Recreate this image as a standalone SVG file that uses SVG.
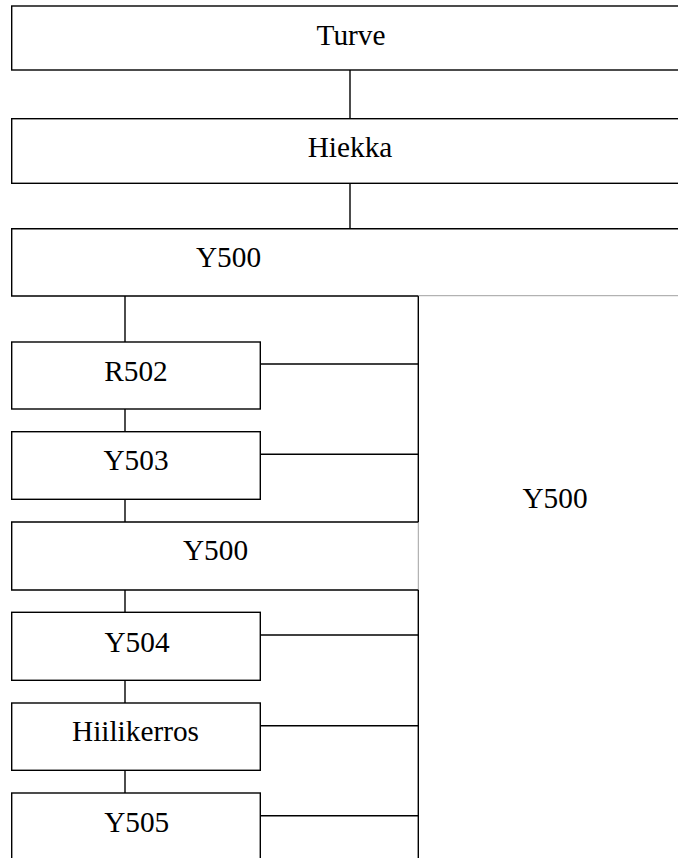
<svg xmlns="http://www.w3.org/2000/svg" width="678" height="858" viewBox="0 0 678 858">
<style>
.box{fill:#fff;stroke:#000;stroke-width:1.4}
.ln{stroke:#000;stroke-width:1.4;fill:none}
.gr{stroke:#a0a0a0;stroke-width:1;fill:none}
.t{font-size:29.3px;fill:#000;text-anchor:middle}
</style>
<rect width="678" height="858" fill="#fff"/>
<g id="connectors">
<line class="ln" x1="350" y1="70" x2="350" y2="118.5"/>
<line class="ln" x1="350" y1="183.3" x2="350" y2="228.7"/>
<line class="ln" x1="125" y1="296" x2="125" y2="342"/>
<line class="ln" x1="125" y1="409" x2="125" y2="432"/>
<line class="ln" x1="125" y1="499.3" x2="125" y2="522"/>
<line class="ln" x1="125" y1="590" x2="125" y2="612.3"/>
<line class="ln" x1="125" y1="680.3" x2="125" y2="703"/>
<line class="ln" x1="125" y1="770.3" x2="125" y2="793"/>
<line class="ln" x1="418.3" y1="296" x2="418.3" y2="522"/>
<line class="ln" x1="418.3" y1="590" x2="418.3" y2="858"/>
<line class="gr" x1="418.3" y1="522" x2="418.3" y2="590"/>
<line class="gr" x1="418.3" y1="295.7" x2="678" y2="295.7"/>
<line class="ln" x1="260.3" y1="364" x2="418.3" y2="364"/>
<line class="ln" x1="260.3" y1="454.3" x2="418.3" y2="454.3"/>
<line class="ln" x1="260.3" y1="635" x2="418.3" y2="635"/>
<line class="ln" x1="260.3" y1="725.7" x2="418.3" y2="725.7"/>
<line class="ln" x1="260.3" y1="815.7" x2="418.3" y2="815.7"/>
</g>
<g font-family="Liberation Serif, Times New Roman, serif">
<g id="turve">
<rect class="box" x="11.7" y="6" width="680" height="64"/>
<text class="t" x="351" y="45">Turve</text>
</g>
<g id="hiekka">
<rect class="box" x="11.7" y="118.7" width="680" height="64.6"/>
<text class="t" x="350" y="156.7">Hiekka</text>
</g>
<g id="y500-top">
<polyline class="ln" points="690,228.7 11.7,228.7 11.7,296 418.3,296"/>
<text class="t" x="228.5" y="267.3">Y500</text>
</g>
<g id="r502">
<rect class="box" x="11.7" y="342" width="248.6" height="67"/>
<text class="t" x="136" y="380.7">R502</text>
</g>
<g id="y503">
<rect class="box" x="11.7" y="431.7" width="248.6" height="67.6"/>
<text class="t" x="136" y="470">Y503</text>
</g>
<g id="y500-mid">
<polyline class="ln" points="418.3,522 11.7,522 11.7,590 418.3,590"/>
<text class="t" x="215.5" y="560">Y500</text>
</g>
<g id="y504">
<rect class="box" x="11.7" y="612.3" width="248.6" height="68"/>
<text class="t" x="137" y="651.7">Y504</text>
</g>
<g id="hiilikerros">
<rect class="box" x="11.7" y="703" width="248.6" height="67.3"/>
<text class="t" x="135.5" y="740.7">Hiilikerros</text>
</g>
<g id="y505">
<rect class="box" x="11.7" y="793" width="248.6" height="80"/>
<text class="t" x="136.7" y="831.7">Y505</text>
</g>
<g id="y500-right">
<text class="t" x="555" y="508.3">Y500</text>
</g>
</g>
</svg>
